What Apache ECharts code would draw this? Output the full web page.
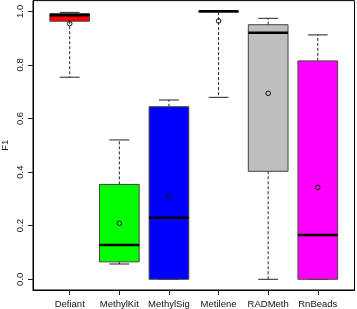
<!DOCTYPE html>
<html><head><meta charset="utf-8">
<script src="https://cdn.jsdelivr.net/npm/echarts@6/dist/echarts.min.js"></script>
<style>html,body{margin:0;padding:0;background:#fff}#c{width:357px;height:309px}</style>
</head><body><div id="c"></div>
<script>
const categories = ['Defiant','MethylKit','MethylSig','Metilene','RADMeth','RnBeads'];
const lowerWhisker = [0.754, 0.057, 0.0, 0.679, 0.0, 0.0];
const q1 = [0.963, 0.065, 0.0, 0.997, 0.403, 0.0];
const median = [0.985, 0.128, 0.23, 1.0, 0.92, 0.165];
const q3 = [0.992, 0.354, 0.644, 1.0, 0.95, 0.815];
const upperWhisker = [0.996, 0.52, 0.669, 1.0, 0.974, 0.912];
const means = [0.954, 0.209, 0.308, 0.964, 0.694, 0.343];
const yTicks = [0, 0.2, 0.4, 0.6, 0.8, 1.0];
const boxColors = ['#FF0000','#00FF00','#0000FF','#FFFF00','#BEBEBE','#FF00FF'];

const data = categories.map((c, i) => [i + 1, lowerWhisker[i], q1[i], median[i], q3[i], upperWhisker[i], means[i]]);

function renderItem(params, api) {
  const x = api.value(0);
  const idx = params.dataIndex;
  const bw = api.size([0.8, 0])[0];
  const cw = bw / 2;
  const p = v => api.coord([x, v]);
  const cx = p(0)[0];
  const yLw = p(api.value(1))[1], yQ1 = p(api.value(2))[1], yMed = p(api.value(3))[1],
        yQ3 = p(api.value(4))[1], yUw = p(api.value(5))[1], yMean = p(api.value(6))[1];
  const dash = {stroke: '#222', lineWidth: 1, lineDash: [3, 2]};
  const solid = {stroke: '#222', lineWidth: 1};
  return {
    type: 'group',
    children: [
      {type: 'line', shape: {x1: cx, y1: yQ3, x2: cx, y2: yUw}, style: dash},
      {type: 'line', shape: {x1: cx, y1: yQ1, x2: cx, y2: yLw}, style: dash},
      {type: 'line', shape: {x1: cx - cw / 2, y1: yUw, x2: cx + cw / 2, y2: yUw}, style: solid},
      {type: 'line', shape: {x1: cx - cw / 2, y1: yLw, x2: cx + cw / 2, y2: yLw}, style: solid},
      {type: 'rect', shape: {x: cx - bw / 2, y: yQ3, width: bw, height: Math.max(yQ1 - yQ3, 0.5)},
        style: {fill: boxColors[idx], stroke: '#444', lineWidth: 1}},
      {type: 'line', shape: {x1: cx - bw / 2, y1: yMed, x2: cx + bw / 2, y2: yMed}, style: {stroke: '#000', lineWidth: 2.5}},
      {type: 'circle', shape: {cx: cx, cy: yMean, r: 2.3}, style: {fill: 'none', stroke: '#111', lineWidth: 1}}
    ]
  };
}

const chart = echarts.init(document.getElementById('c'), null, {renderer: 'canvas'});
const font = 'Liberation Sans, Arial, sans-serif';
chart.setOption({
  animation: false,
  grid: {left: 33, right: 2.5, top: 0.6, bottom: 19, show: true, borderColor: '#000', borderWidth: 1,
    outerBoundsMode: 'none', containLabel: false},
  xAxis: {
    type: 'value', min: 0.26, max: 6.74,
    splitLine: {show: false},
    axisLine: {show: true, onZero: false, lineStyle: {color: '#000'}},
    axisTick: {show: true, length: 5, customValues: [1,2,3,4,5,6], lineStyle: {color: '#222'}},
    axisLabel: {customValues: [1,2,3,4,5,6], formatter: v => categories[Math.round(v) - 1] || '',
      fontFamily: font, fontSize: 9.5, color: '#111', margin: 9}
  },
  yAxis: {
    type: 'value', min: -0.04, max: 1.04,
    name: 'F1', nameLocation: 'middle', nameGap: 27.5, nameRotate: 90, nameMoveOverlap: false,
    nameTextStyle: {fontFamily: font, fontSize: 9.5, color: '#111', verticalAlign: 'middle', align: 'center'},
    splitLine: {show: false},
    axisLine: {show: true, onZero: false, lineStyle: {color: '#000'}},
    axisTick: {show: true, length: 5, customValues: yTicks, lineStyle: {color: '#222'}},
    axisLabel: {customValues: yTicks, formatter: v => v.toFixed(1), rotate: 90,
      fontFamily: font, fontSize: 9.5, color: '#111', margin: 8}
  },
  series: [{type: 'custom', renderItem: renderItem, data: data, encode: {x: 0, y: [1,2,3,4,5,6]}, clip: false}]
});
</script></body></html>
